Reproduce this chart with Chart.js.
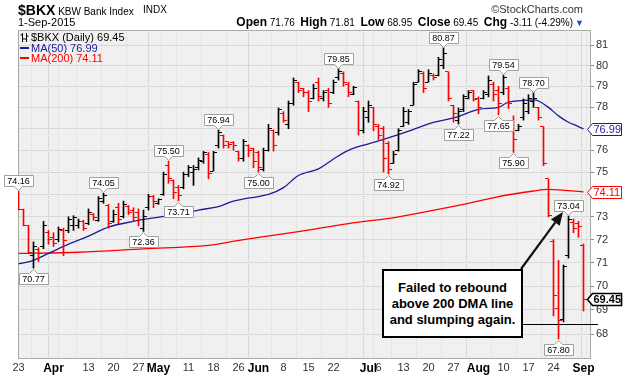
<!DOCTYPE html>
<html>
<head>
<meta charset="utf-8">
<script src="https://cdn.jsdelivr.net/npm/chart.js@4.4.1/dist/chart.umd.min.js"></script>
<style>
html,body{margin:0;padding:0;background:#fff;}
#wrap{position:relative;width:624px;height:379px;overflow:hidden;font-family:"Liberation Sans",Arial,Helvetica,sans-serif;color:#000;}
#c{position:absolute;left:0;top:0;}
.t{position:absolute;white-space:nowrap;line-height:1;}
#note{position:absolute;left:382px;top:269px;width:141px;height:69px;box-sizing:border-box;border:2px solid #000;background:#fff;
  font-weight:bold;font-size:13px;line-height:16px;text-align:center;padding-top:9px;}
#lg div{height:10.5px;line-height:10.5px;}
.sw{display:inline-block;width:9px;height:2px;vertical-align:middle;margin-right:2px;position:relative;top:-1px;}
</style>
</head>
<body>
<div id="wrap">
<canvas id="c" width="624" height="379"></canvas>
<div class="t" style="left:18px;top:2px;"><span style="font-weight:bold;font-size:14px;">$BKX</span><span style="font-size:10px;"> KBW Bank Index</span></div>
<div class="t" style="left:143px;top:5px;font-size:10px;">INDX</div>
<div class="t" style="right:41px;top:4px;font-size:11px;color:#333;">©StockCharts.com</div>
<div class="t" style="left:18px;top:17px;font-size:11px;">1-Sep-2015</div>
<div class="t" id="ohlc" style="right:40px;top:16px;font-size:10px;"></div>
<div class="t" id="lg" style="left:20px;top:32px;font-size:11px;"></div>
<div id="note">Failed to rebound<br>above 200 DMA line<br>and slumping again.</div>
</div>
<script>
// ---- data (trading days 23-Mar-2015 .. 1-Sep-2015, index 0..113) ----
const opens = [74.00,73.34,72.60,71.30,71.55,71.70,72.30,72.10,72.00,72.40,
 72.40,72.60,72.60,72.80,72.70,73.10,72.85,73.70,73.50,72.80,
 73.40,73.00,73.45,73.30,73.20,72.50,73.40,73.90,73.60,74.00,
 75.30,74.60,74.30,74.30,74.90,75.00,75.20,75.50,75.80,75.05,
 76.20,76.70,76.40,76.35,75.95,75.60,76.20,76.10,75.90,75.10,
 76.00,76.90,76.80,77.70,77.20,78.20,79.20,78.90,78.70,78.40,
 79.20,78.40,78.80,78.70,79.40,79.60,79.10,78.60,78.30,76.90,
 77.50,78.00,77.10,77.00,76.30,75.40,76.00,77.10,77.30,78.10,
 79.20,79.60,79.20,79.50,79.50,80.00,79.70,78.10,77.40,77.90,
 78.40,78.80,78.40,78.40,78.60,79.10,78.80,78.70,78.90,77.40,
 76.90,77.50,77.80,78.30,78.00,77.10,74.70,71.90,69.05,68.60,
 71.30,72.75,72.70,71.76];
const highs = [74.16,73.34,72.62,71.90,71.65,72.80,72.40,72.30,72.55,72.50,
 73.00,73.05,72.90,72.85,73.35,73.15,73.90,74.05,73.55,73.30,
 73.60,73.70,73.50,73.40,73.35,73.30,74.00,73.95,73.80,75.00,
 75.50,74.65,74.40,75.00,75.30,75.30,75.65,75.95,75.90,75.95,
 76.94,76.70,76.40,76.40,75.96,76.50,76.25,76.10,75.96,76.10,
 77.20,76.94,77.97,77.80,78.30,79.40,79.20,78.90,78.80,79.10,
 79.40,78.80,78.90,79.30,79.85,79.70,79.20,79.00,78.30,78.00,
 78.30,78.00,77.20,77.10,76.40,75.96,77.00,78.00,77.90,79.20,
 79.80,79.70,79.80,79.60,80.40,80.87,79.70,78.10,77.97,78.60,
 78.80,78.80,78.50,78.80,79.50,79.20,79.00,79.54,79.00,77.60,
 77.20,78.40,78.60,78.70,78.00,77.10,74.70,72.00,71.10,70.90,
 73.04,72.90,72.80,71.81];
const lows = [73.30,72.60,71.43,70.77,71.05,71.60,71.80,71.70,71.90,71.30,
 72.30,72.40,72.50,72.40,72.65,72.85,72.80,73.60,72.50,72.75,
 72.70,72.95,73.10,72.80,72.60,72.36,73.30,73.40,73.55,73.95,
 74.50,73.80,73.71,74.25,74.80,74.40,75.10,75.40,74.70,75.05,
 76.10,76.10,76.10,76.00,75.50,75.50,75.70,75.20,75.00,75.05,
 75.96,75.96,76.70,77.30,77.00,78.10,78.70,78.50,77.80,78.40,
 78.30,78.30,78.00,78.65,79.30,79.00,78.50,78.60,76.70,76.80,
 77.30,76.90,76.50,75.00,74.92,75.40,75.96,77.10,77.20,78.10,
 79.20,78.70,79.20,79.30,79.50,79.85,78.30,77.30,77.22,77.80,
 78.40,78.30,77.70,78.40,78.50,78.30,77.65,78.60,77.95,75.90,
 76.90,77.40,77.70,78.00,77.40,75.30,73.00,68.75,67.80,68.50,
 71.20,72.30,72.10,68.95];
const closes = [73.34,72.62,71.45,71.70,71.40,72.60,72.00,71.85,72.45,71.95,
 72.90,72.95,72.80,72.50,73.20,72.95,73.80,73.95,72.70,73.10,
 72.90,73.55,73.20,72.95,72.90,73.00,73.90,73.70,73.75,74.90,
 74.70,74.10,73.95,74.90,75.20,75.10,75.55,75.90,74.95,75.90,
 76.80,76.20,76.25,76.20,75.60,76.40,76.00,75.50,75.20,76.00,
 77.00,76.20,77.90,77.40,78.20,79.30,78.80,78.70,78.30,78.90,
 78.50,78.70,78.20,79.20,79.70,79.20,78.70,78.95,76.90,77.80,
 78.10,77.20,76.70,75.60,75.10,75.80,76.90,77.80,77.80,79.10,
 79.70,78.90,79.60,79.40,80.30,80.60,78.40,77.70,77.80,78.50,
 78.70,78.35,78.00,78.70,79.30,78.60,78.20,79.40,78.20,76.50,
 77.10,78.20,78.40,78.40,77.50,75.40,73.05,69.60,68.55,70.85,
 72.90,72.50,72.56,69.45];
const ma50Idx = [0,3,6,10,14,18,23,27,33,36,40,43,50,53,56,60,63,66,70,73,77,83,87,92,96,98,103,104,106,108,110,112,113];
const ma50Val = [70.95,71.10,71.40,71.80,72.15,72.55,72.80,72.95,73.15,73.30,73.45,73.70,74.00,74.30,74.85,75.15,75.60,76.00,76.30,76.50,76.80,77.30,77.50,77.90,78.00,78.25,78.35,78.30,78.00,77.60,77.30,77.10,76.99];
const ma200Idx = [0,12,25,38,45,56,66,73,76,90,96,103,106,113];
const ma200Val = [71.40,71.45,71.60,71.75,72.00,72.35,72.70,72.90,73.00,73.60,73.90,74.15,74.22,74.11];
const tickIdx  = [0,7,14,19,24,28,34,39,44,48,53,58,63,70,72,77,82,87,92,97,102,107,113];
const tickText = ['23','Apr','13','20','27','May','11','18','26','Jun','8','15','22','Jul','6','13','20','27','Aug','10','17','24','Sep'];
const monthIdx = [7,28,48,70,92,113];
const weekIdx  = [5,9,14,19,24,29,34,39,44,53,58,63,68,72,77,82,87,97,102,107,112];
const yTicks   = [68,69,70,71,72,73,74,75,76,77,78,79,80,81];
const calloutIdx  = [0,3,17,25,30,32,40,48,64,74,85,88,96,97,99,103,108,110];
const calloutKind = ['H','L','H','L','H','L','H','L','H','L','H','L','L','H','L','H','L','H'];

// ---- header / legend text from data ----
const n = closes.length;
const lastC = closes[n-1], prevC = closes[n-2];
const chg = lastC - prevC, pct = chg / prevC * 100;
const B = s => '<b style="font-size:12px">' + s + '</b>';
document.getElementById('ohlc').innerHTML =
  B('Open') + ' ' + opens[n-1].toFixed(2) + '&nbsp; ' + B('High') + ' ' + highs[n-1].toFixed(2) + '&nbsp; ' +
  B('Low') + ' ' + lows[n-1].toFixed(2) + '&nbsp; ' + B('Close') + ' ' + lastC.toFixed(2) + '&nbsp; ' +
  B('Chg') + ' ' + chg.toFixed(2) + ' (' + pct.toFixed(2) + '%)' + '<span style="color:#1f4fd0;font-size:9px;margin-left:2px">&#9660;</span>';
const NAVY = '#1c1c9a', RED = '#ff0000', BLACK = '#000000';
document.getElementById('lg').innerHTML =
  '<div><svg width="9" height="9" style="vertical-align:-1px;margin-right:2px"><path d="M2.5 0V9M0.5 2H2.5M2.5 6H4.5M6.5 0V9M4.5 6H6.5M6.5 3H8.5" stroke="#000" stroke-width="1" fill="none"/></svg>$BKX (Daily) ' + lastC.toFixed(2) + '</div>' +
  '<div style="color:' + NAVY + '"><span class="sw" style="background:' + NAVY + '"></span>MA(50) ' + ma50Val[ma50Val.length-1].toFixed(2) + '</div>' +
  '<div style="color:' + RED + '"><span class="sw" style="background:' + RED + '"></span>MA(200) ' + ma200Val[ma200Val.length-1].toFixed(2) + '</div>';

// ---- chart ----
const colors = closes.map((c, i) => c < opens[i] ? RED : BLACK);
function tickImg(color, side) {
  const cv = document.createElement('canvas'); cv.width = 7; cv.height = 1;
  const g = cv.getContext('2d'); g.fillStyle = color; g.fillRect(side === 'L' ? 0 : 4, 0, 3, 1);
  return cv;
}
const imgs = { LR: tickImg(RED, 'L'), LB: tickImg(BLACK, 'L'), RR: tickImg(RED, 'R'), RB: tickImg(BLACK, 'R') };
const labelAt = {}; tickIdx.forEach((v, k) => labelAt[v] = tickText[k]);
const gridIdx = Array.from(new Set([...weekIdx, ...monthIdx, ...tickIdx])).sort((a, b) => a - b);
const FONT = '"Liberation Sans", Arial, sans-serif';
Chart.defaults.font.family = FONT;

const deco = {
  id: 'deco',
  beforeDraw(chart) {
    const { ctx, chartArea: a } = chart;
    ctx.save();
    ctx.fillStyle = '#fff'; ctx.fillRect(0, 0, chart.width, chart.height);
    ctx.fillStyle = '#f0f0f0'; ctx.fillRect(a.left, a.top, a.right - a.left, a.bottom - a.top);
    ctx.restore();
  },
  beforeDatasetsDraw(chart) {
    const { ctx, chartArea: a } = chart;
    ctx.save();
    ctx.strokeStyle = '#a3ada5'; ctx.lineWidth = 1;
    ctx.beginPath(); ctx.moveTo(a.left + 0.5, a.bottom); ctx.lineTo(a.left + 0.5, a.top + 0.5); ctx.lineTo(a.right, a.top + 0.5); ctx.stroke();
    ctx.restore();
    ctx.imageSmoothingEnabled = false;
  },
  afterDraw(chart) {
    const { ctx, chartArea: a, scales: { x: xs, y: ys } } = chart;
    ctx.save();
    ctx.imageSmoothingEnabled = true;
    // callouts
    ctx.font = '9px ' + FONT; ctx.textAlign = 'center'; ctx.textBaseline = 'middle';
    calloutIdx.forEach((i, k) => {
      const hi = calloutKind[k] === 'H';
      const v = hi ? highs[i] : lows[i];
      const px = xs.getPixelForValue(i), py = ys.getPixelForValue(v);
      const txt = v.toFixed(2);
      const w = Math.round(ctx.measureText(txt).width) + 6, h = 11, p = 4;
      const bx = Math.round(px - w / 2) + 0.5;
      const by = hi ? Math.round(py - p - h - 1) + 0.5 : Math.round(py + p + 1) + 0.5;
      ctx.beginPath();
      if (hi) {
        ctx.moveTo(bx, by); ctx.lineTo(bx + w, by); ctx.lineTo(bx + w, by + h);
        ctx.lineTo(px + p, by + h); ctx.lineTo(px, by + h + p); ctx.lineTo(px - p, by + h); ctx.lineTo(bx, by + h);
      } else {
        ctx.moveTo(bx, by); ctx.lineTo(px - p, by); ctx.lineTo(px, by - p); ctx.lineTo(px + p, by);
        ctx.lineTo(bx + w, by); ctx.lineTo(bx + w, by + h); ctx.lineTo(bx, by + h);
      }
      ctx.closePath();
      ctx.fillStyle = '#ffffff'; ctx.fill();
      ctx.strokeStyle = '#99a59b'; ctx.lineWidth = 1; ctx.stroke();
      ctx.fillStyle = '#000'; ctx.fillText(txt, px, by + h / 2 + 0.5);
    });
    // right-axis value tags
    function tag(v, color, bold) {
      const py = Math.round(ys.getPixelForValue(v)) + 0.5;
      const xL = a.right - 2.5, xB = a.right + 2.5, xR = 621.5, hh = 6;
      ctx.beginPath();
      ctx.moveTo(xL, py); ctx.lineTo(xB, py - hh); ctx.lineTo(xR, py - hh); ctx.lineTo(xR, py + hh); ctx.lineTo(xB, py + hh); ctx.closePath();
      ctx.fillStyle = '#fff'; ctx.fill();
      ctx.strokeStyle = color; ctx.lineWidth = bold ? 1.6 : 1; ctx.stroke();
      ctx.font = (bold ? 'bold ' : '') + '11px ' + FONT; ctx.textAlign = 'left'; ctx.textBaseline = 'middle';
      ctx.fillStyle = color; ctx.fillText(v.toFixed(2), xB + 1, py + 0.5);
    }
    tag(ma50Val[ma50Val.length - 1], NAVY, false);
    tag(ma200Val[ma200Val.length - 1], RED, false);
    tag(lastC, BLACK, true);
    // annotation arrow and level line
    ctx.strokeStyle = '#000'; ctx.lineWidth = 1;
    ctx.beginPath(); ctx.moveTo(523, 324.5); ctx.lineTo(598, 324.5); ctx.stroke();
    const x0 = 521, y0 = 269, x1 = 563, y1 = 212;
    const ang = Math.atan2(y1 - y0, x1 - x0), L = 13, W = 5.5;
    const bxp = x1 - L * Math.cos(ang), byp = y1 - L * Math.sin(ang);
    ctx.strokeStyle = '#111'; ctx.lineWidth = 2.2;
    ctx.beginPath(); ctx.moveTo(x0, y0); ctx.lineTo(bxp, byp); ctx.stroke();
    ctx.fillStyle = '#111';
    ctx.beginPath(); ctx.moveTo(x1, y1);
    ctx.lineTo(bxp + W * Math.sin(ang), byp - W * Math.cos(ang));
    ctx.lineTo(bxp - W * Math.sin(ang), byp + W * Math.cos(ang));
    ctx.closePath(); ctx.fill();
    ctx.restore();
  }
};

new Chart(document.getElementById('c'), {
  data: {
    datasets: [
      { type: 'bar', data: highs.map((h, i) => ({ x: i, y: [lows[i], h] })), backgroundColor: colors,
        barThickness: 1, borderWidth: 0, grouped: false },
      { type: 'scatter', data: opens.map((o, i) => ({ x: i, y: o })), pointRadius: 2,
        pointStyle: c => colors[c.dataIndex] === RED ? imgs.LR : imgs.LB },
      { type: 'scatter', data: closes.map((o, i) => ({ x: i, y: o })), pointRadius: 2,
        pointStyle: c => colors[c.dataIndex] === RED ? imgs.RR : imgs.RB },
      { type: 'line', data: ma50Idx.map((x, k) => ({ x, y: ma50Val[k] })), borderColor: NAVY, borderWidth: 1.3,
        pointRadius: 0, tension: 0.35, fill: false },
      { type: 'line', data: ma200Idx.map((x, k) => ({ x, y: ma200Val[k] })), borderColor: RED, borderWidth: 1.3,
        pointRadius: 0, tension: 0.35, fill: false }
    ]
  },
  options: {
    responsive: false, animation: false, devicePixelRatio: 1, events: [],
    layout: { padding: { left: 18, top: 30, right: 0, bottom: 0 } },
    plugins: { legend: { display: false }, tooltip: { enabled: false } },
    scales: {
      x: {
        type: 'linear', min: -0.1, max: 114.3, offset: false,
        afterBuildTicks: s => { s.ticks = gridIdx.map(v => ({ value: v })); },
        afterFit: s => { s.height = 21; },
        ticks: {
          autoSkip: false, maxRotation: 0, minRotation: 0, padding: 3,
          callback: v => labelAt[v] !== undefined ? labelAt[v] : '',
          color: c => (c.tick && monthIdx.includes(c.tick.value)) ? '#000' : '#333',
          font: c => (c.tick && monthIdx.includes(c.tick.value)) ? { size: 12, weight: 'bold' } : { size: 11 }
        },
        grid: {
          drawTicks: false,
          color: c => (c.tick && monthIdx.includes(c.tick.value)) ? '#c3c3c3' : (c.tick && c.tick.value === 0 ? 'rgba(0,0,0,0)' : '#dadada')
        },
        border: { color: '#a3ada5', dash: [1, 1] }
      },
      y: {
        type: 'logarithmic', position: 'right', min: 67.02, max: 81.74,
        afterBuildTicks: s => { s.ticks = yTicks.map(v => ({ value: v })); },
        afterFit: s => { s.width = 34; },
        ticks: { autoSkip: false, padding: 2, color: '#333', font: { size: 11 }, callback: v => String(v) },
        grid: { color: '#d9d9d9', tickColor: '#8c8c8c', tickLength: 4 },
        border: { color: '#a3ada5' }
      }
    }
  },
  plugins: [deco]
});
</script>
</body>
</html>
